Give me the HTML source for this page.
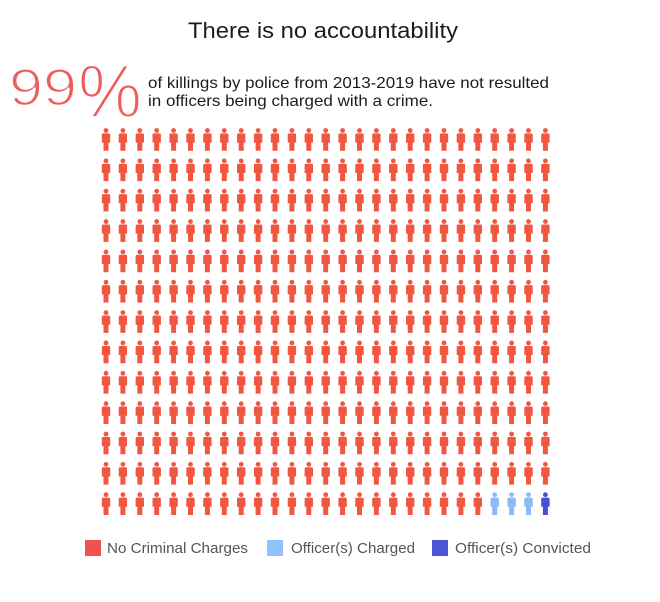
<!DOCTYPE html>
<html>
<head>
<meta charset="utf-8">
<style>
  html,body{margin:0;padding:0;background:#fff;}
  svg{display:block;}
  text{font-family:"Liberation Sans",Arial,sans-serif;}
</style>
</head>
<body>
<svg width="660" height="602" viewBox="0 0 660 602" xmlns="http://www.w3.org/2000/svg">
  <defs>
    <symbol id="p" overflow="visible">
      <circle cx="0" cy="2.5" r="2.4"/>
      <path d="M-4.2,7 Q-4.2,5.4 -2.7,5.4 H2.7 Q4.2,5.4 4.2,7 V14.6 H2.5 V22.8 H-2.5 V14.6 H-4.2 Z"/>
    </symbol>
  </defs>
  <rect width="660" height="602" fill="#fff"/>

  <text x="188" y="38" font-size="22.5" fill="#1c1c1c" textLength="270" lengthAdjust="spacingAndGlyphs">There is no accountability</text>

  <text x="9" y="105" font-size="52" fill="#ef5c5c" stroke="#fff" stroke-width="1.6" textLength="68" lengthAdjust="spacingAndGlyphs">99</text>
  <text x="78" y="117" font-size="75" fill="#ef5c5c" stroke="#fff" stroke-width="2" textLength="64" lengthAdjust="spacingAndGlyphs">%</text>

  <text x="148" y="88" font-size="16" fill="#1c1c1c" textLength="401" lengthAdjust="spacingAndGlyphs">of killings by police from 2013-2019 have not resulted</text>
  <text x="148" y="106" font-size="16" fill="#1c1c1c" textLength="285" lengthAdjust="spacingAndGlyphs">in officers being charged with a crime.</text>

  <g id="grid"></g>

  <rect x="85" y="540" width="16" height="16" fill="#ef5350"/>
  <text x="107" y="553" font-size="14.5" fill="#555" textLength="141" lengthAdjust="spacingAndGlyphs">No Criminal Charges</text>
  <rect x="267" y="540" width="16" height="16" fill="#90c3f7"/>
  <text x="291" y="553" font-size="14.5" fill="#555" textLength="124" lengthAdjust="spacingAndGlyphs">Officer(s) Charged</text>
  <rect x="432" y="540" width="16" height="16" fill="#4c55d8"/>
  <text x="455" y="553" font-size="14.5" fill="#555" textLength="136" lengthAdjust="spacingAndGlyphs">Officer(s) Convicted</text>
</svg>
<script>
(function(){
  var g=document.getElementById('grid');
  var ns='http://www.w3.org/2000/svg', xl='http://www.w3.org/1999/xlink';
  for(var j=0;j<13;j++){
    for(var i=0;i<27;i++){
      var u=document.createElementNS(ns,'use');
      u.setAttributeNS(xl,'xlink:href','#p');
      u.setAttribute('href','#p');
      u.setAttribute('x',(106+16.9*i).toFixed(2));
      u.setAttribute('y',(128+30.35*j).toFixed(2));
      var c='#f15641';
      if(j==12){
        if(i>=23&&i<=25)c='#8cbaf7';
        else if(i==26)c='#4a4fd4';
      }
      u.setAttribute('fill',c);
      g.appendChild(u);
    }
  }
})();
</script>
</body>
</html>
